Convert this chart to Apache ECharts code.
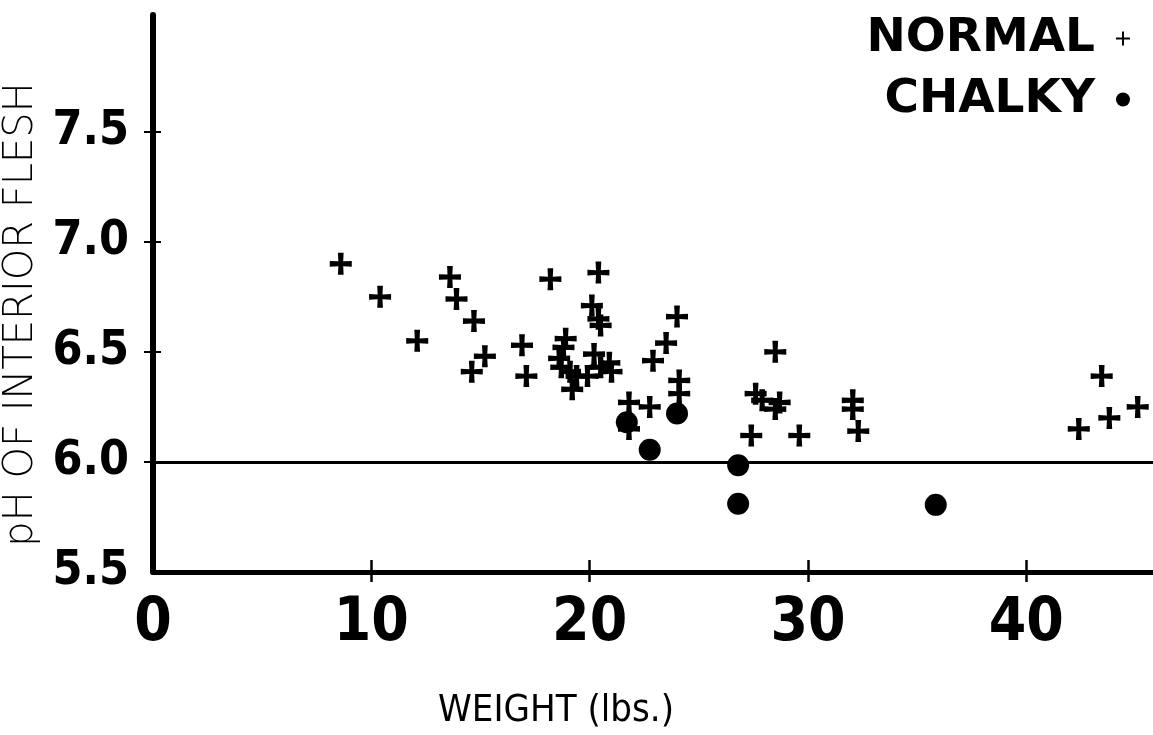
<!DOCTYPE html>
<html>
<head>
<meta charset="utf-8">
<title>pH of interior flesh vs weight</title>
<script src="https://cdn.jsdelivr.net/npm/echarts@6/dist/echarts.min.js"></script>
<style>
  html, body { margin: 0; padding: 0; background: #fff; }
  #chart { width: 1153px; height: 735px; }
</style>
</head>
<body>
<div id="chart"></div>
<script>
// Normal fish: weight (lbs.) and pH of interior flesh
const normalWeight = [8.6, 10.4, 12.1, 13.6, 13.9, 14.7, 14.6, 15.2, 16.9, 17.1,
  18.2, 20.4, 20.1, 20.4, 20.5, 18.9, 18.8, 18.6, 18.7, 19.1,
  19.4, 19.2, 19.9, 20.2, 20.5, 20.9, 21.0, 21.8, 21.8, 22.75,
  22.9, 23.5, 24.0, 24.1, 24.1, 27.6, 27.9, 28.5, 28.7, 28.5,
  27.4, 29.6, 32.05, 32.05, 32.3, 42.4, 43.45, 43.8, 45.1];
const normalPH = [6.90, 6.75, 6.55, 6.84, 6.74, 6.64, 6.41, 6.48, 6.53, 6.39,
  6.83, 6.86, 6.71, 6.65, 6.62, 6.56, 6.52, 6.47, 6.43, 6.41,
  6.39, 6.33, 6.39, 6.49, 6.43, 6.45, 6.41, 6.27, 6.15, 6.25,
  6.46, 6.54, 6.66, 6.37, 6.31, 6.31, 6.28, 6.50, 6.27, 6.24,
  6.12, 6.12, 6.28, 6.24, 6.14, 6.15, 6.39, 6.20, 6.25];

// Chalky fish
const chalkyWeight = [21.7, 22.75, 24.0, 26.8, 26.8, 35.85];
const chalkyPH = [6.18, 6.055, 6.22, 5.985, 5.81, 5.805];

// Axis ticks
const xTickLabels = [0, 10, 20, 30, 40];
const xTickMarks = [10, 20, 30, 40];
const yTickLabels = [5.5, 6.0, 6.5, 7.0, 7.5];
const yTickMarks = [6.0, 6.5, 7.0, 7.5];
const thresholdPH = 6.0;

const plusMark = 'path://M3.7,0 H6.3 L6.1,3.9 L10,3.7 V6.3 L6.1,6.1 L6.3,10 H3.7 L3.9,6.1 L0,6.3 V3.7 L3.9,3.9 Z';
const plusThin = 'path://M4.3,0 H5.7 V4.3 H10 V5.7 H5.7 V10 H4.3 V5.7 H0 V4.3 H4.3 Z';

const zip = (xs, ys) => xs.map((x, i) => [x, ys[i]]);

const numFont = '"DejaVu Sans Condensed", "Liberation Sans Narrow", sans-serif';

const chart = echarts.init(document.getElementById('chart'), null, { renderer: 'canvas' });

chart.setOption({
  backgroundColor: '#ffffff',
  animation: false,
  grid: { left: 153, right: 0, top: 15, bottom: 163, containLabel: false, outerBoundsMode: 'none' },
  legend: {
    orient: 'vertical',
    right: 18,
    top: 10,
    align: 'right',
    itemGap: 14,
    itemWidth: 14,
    itemHeight: 14,
    selectedMode: false,
    textStyle: {
      fontFamily: '"DejaVu Sans", sans-serif',
      fontWeight: 'bold',
      fontSize: 47,
      color: '#000',
      padding: [0, 16, 0, 0]
    },
    data: [
      { name: 'NORMAL', icon: plusThin },
      { name: 'CHALKY', icon: 'circle' }
    ]
  },
  xAxis: [
    {
      type: 'value',
      min: 0,
      max: 45.8,
      interval: 10,
      name: 'WEIGHT (lbs.)',
      nameLocation: 'middle',
      nameGap: 120,
      nameTextStyle: {
        fontFamily: '"DejaVu Sans Condensed", sans-serif',
        fontWeight: 300,
        fontSize: 38,
        color: '#000',
        padding: [0, 194, 0, 0]
      },
      axisLine: { show: true, onZero: false, lineStyle: { color: '#000', width: 5 } },
      axisTick: { show: true, customValues: xTickMarks, length: 10, lineStyle: { color: '#000', width: 2.5 } },
      axisLabel: {
        customValues: xTickLabels,
        formatter: v => String(v),
        fontFamily: numFont,
        fontWeight: 'bold',
        fontSize: 60,
        color: '#000',
        margin: 22
      },
      splitLine: { show: false }
    },
    {
      type: 'value',
      position: 'bottom',
      min: 0,
      max: 45.8,
      interval: 10,
      axisLine: { show: false },
      axisTick: { show: true, inside: true, customValues: xTickMarks, length: 12, lineStyle: { color: '#000', width: 2.5 } },
      axisLabel: { show: false },
      splitLine: { show: false }
    }
  ],
  yAxis: [
    {
      type: 'value',
      min: 5.5,
      max: 8.03,
      interval: 0.5,
      name: 'pH OF INTERIOR FLESH',
      nameLocation: 'middle',
      nameGap: 110,
      nameTextStyle: {
        fontFamily: '"DejaVu Sans", sans-serif',
        fontWeight: 300,
        fontSize: 40,
        color: '#000',
        padding: [0, 42, 0, 0]
      },
      axisLine: { show: true, onZero: false, lineStyle: { color: '#000', width: 6 } },
      axisTick: { show: true, customValues: yTickMarks, length: 9, lineStyle: { color: '#000', width: 2 } },
      axisLabel: {
        customValues: yTickLabels,
        formatter: v => v.toFixed(1),
        fontFamily: numFont,
        fontWeight: 'bold',
        fontSize: 48,
        color: '#000',
        margin: 24
      },
      splitLine: { show: false }
    },
    {
      type: 'value',
      position: 'left',
      min: 5.5,
      max: 8.03,
      interval: 0.5,
      axisLine: { show: false },
      axisTick: { show: true, inside: true, customValues: yTickMarks, length: 8, lineStyle: { color: '#000', width: 2 } },
      axisLabel: { show: false },
      splitLine: { show: false }
    }
  ],
  series: [
    {
      name: 'NORMAL',
      type: 'scatter',
      symbol: plusMark,
      symbolSize: 22,
      itemStyle: { color: '#000', opacity: 1 },
      data: zip(normalWeight, normalPH)
    },
    {
      name: 'CHALKY',
      type: 'scatter',
      symbol: 'circle',
      symbolSize: 22,
      itemStyle: { color: '#000', opacity: 1 },
      data: zip(chalkyWeight, chalkyPH),
      markLine: {
        silent: true,
        symbol: 'none',
        label: { show: false },
        lineStyle: { color: '#000', width: 3, type: 'solid' },
        data: [{ yAxis: thresholdPH }]
      }
    }
  ]
});
</script>
</body>
</html>
